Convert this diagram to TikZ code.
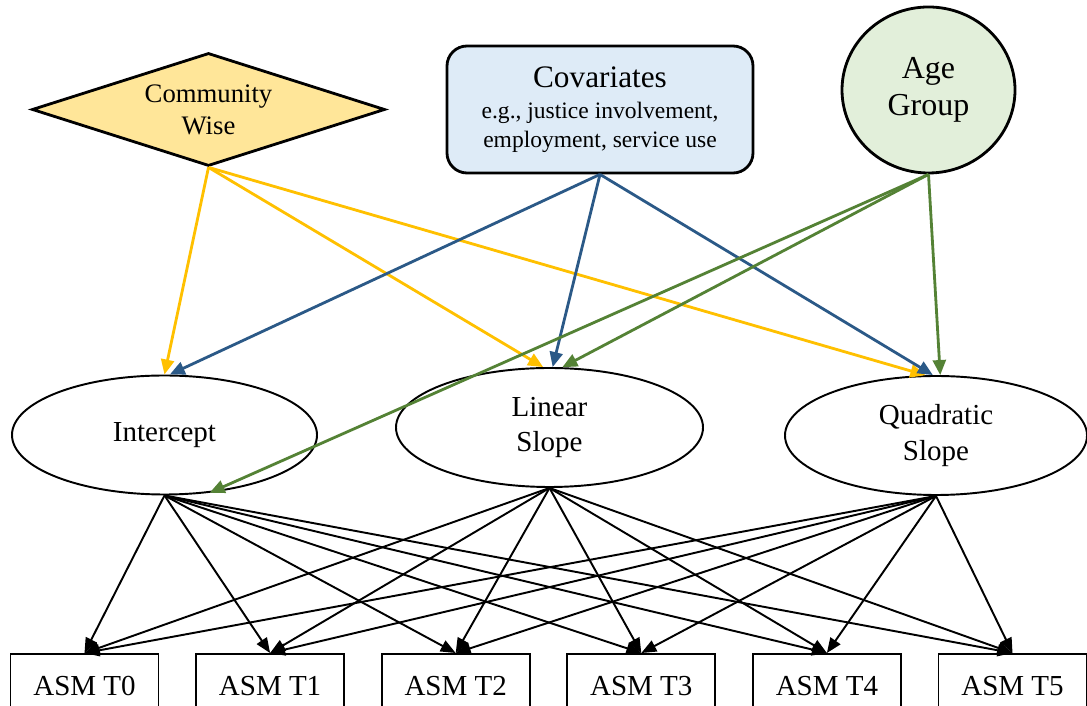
\documentclass[tikz,border=0pt]{standalone}
\usepackage{fontspec}
\setmainfont{Liberation Serif}
\usetikzlibrary{shapes.geometric, arrows.meta, positioning}
\definecolor{cwgold}{RGB}{255, 192, 0}
\definecolor{cwfill}{RGB}{255, 230, 153}
\definecolor{covblue}{RGB}{43, 89, 135}
\definecolor{covfill}{RGB}{222, 235, 247}
\definecolor{agegreen}{RGB}{84, 130, 53}
\definecolor{agefill}{RGB}{226, 239, 218}

\begin{document}
\begin{tikzpicture}[
  latent/.style={draw, ellipse, line width=1.1pt, minimum width=6.1cm, minimum height=2.38cm, inner sep=0pt, align=center, font=\fontsize{16.5}{20.3}\selectfont},
  asmbox/.style={draw, rectangle, line width=1.1pt, minimum width=2.96cm, minimum height=1.28cm, inner sep=0pt, font=\fontsize{16.5}{20}\selectfont},
  regarrow/.style={-{Triangle[length=0.3cm, width=0.26cm]}, line width=1.6pt},
  loadarrow/.style={-{Triangle[length=0.3cm, width=0.24cm]}, line width=1.1pt}
]
  \clip (0, 0) rectangle (21.74, 14.12);

  % Predictors
  \node[draw, diamond, aspect=3.1, fill=cwfill, line width=1.6pt, minimum width=7.06cm, minimum height=2.26cm, inner sep=0pt, align=center, font=\fontsize{15.2}{18.2}\selectfont] (cw) at (4.17, 11.93) {Community\\Wise};

  \node[draw, rounded corners=0.4cm, fill=covfill, line width=1.6pt, minimum width=6.12cm, minimum height=2.54cm, align=center, font=\fontsize{13.4}{16.5}\selectfont] (cov) at (12.0, 11.93) {
    {\fontsize{17.8}{20}\selectfont Covariates}\\[1.1pt]
    e.g., justice involvement,\\
    employment, service use
  };

  \node[draw, ellipse, fill=agefill, line width=1.6pt, minimum width=3.46cm, minimum height=3.32cm, inner sep=0pt, align=center, font=\fontsize{18.2}{21.2}\selectfont] (age) at (18.57, 12.32) {Age\\Group};

  % Growth factors
  \node[latent] (ic) at (3.29, 5.42) {Intercept};
  \node[latent, minimum width=6.14cm] (ls) at (10.99, 5.57) {Linear\\Slope};
  \node[latent, minimum width=6.04cm] (qs) at (18.72, 5.41) {Quadratic\\Slope};

  % Repeated measures
  \foreach \t in {0,...,5}
    \node[asmbox] (t\t) at ({1.69 + 3.712*\t}, 0.4) {ASM T\t};

  % Loadings
  \foreach \f in {ic, ls, qs}
    \foreach \t in {0,...,5}
      \draw[loadarrow] (\f.south) -- (t\t.north);

  % Community Wise paths
  \draw[regarrow, cwgold] (cw.south) -- (ic.90);
  \draw[regarrow, cwgold] (cw.south) -- (ls.96);
  \draw[regarrow, cwgold] (cw.south) -- (qs.100);

  % Covariate paths
  \draw[regarrow, covblue] (cov.south) -- (ic.85);
  \draw[regarrow, covblue] (cov.south) -- (ls.87);
  \draw[regarrow, covblue] (cov.south) -- (qs.93);

  % Age group paths
  \draw[regarrow, agegreen] (age.south) -- (ic.-52);
  \draw[regarrow, agegreen] (age.south) -- (ls.78);
  \draw[regarrow, agegreen] (age.south) -- (qs.86);
\end{tikzpicture}
\end{document}
